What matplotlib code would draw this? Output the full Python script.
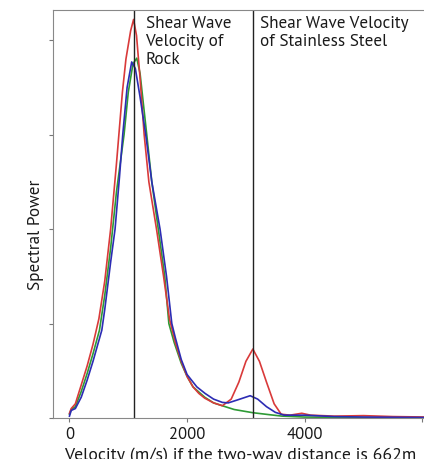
import numpy as np
import matplotlib.pyplot as plt

# velocidades y potencias
v_red = [0, 30, 100, 200, 300, 400, 500, 600, 700, 800, 900, 960, 1040, 1090, 1140,
         1200, 1270, 1350, 1480, 1600, 1700, 1800, 1900, 2000, 2100, 2200, 2300, 2450,
         2600, 2750, 2880, 3000, 3118, 3230, 3350, 3480, 3600, 3750, 3950, 4100, 4500,
         5000, 5500, 6100]
p_red = [0.05, 0.1, 0.15, 0.35, 0.55, 0.78, 1.05, 1.45, 2.0, 2.7, 3.45, 3.8, 4.1, 4.22, 4.05,
         3.6, 3.0, 2.5, 2.0, 1.5, 1.05, 0.8, 0.6, 0.44, 0.33, 0.26, 0.21, 0.16,
         0.13, 0.2, 0.38, 0.6, 0.73, 0.6, 0.38, 0.15, 0.04, 0.03, 0.05, 0.03, 0.02,
         0.025, 0.015, 0.01]

v_green = [0, 30, 100, 200, 300, 400, 510, 600, 700, 800, 928, 1000, 1080, 1144, 1200,
           1314, 1400, 1510, 1620, 1690, 1780, 1900, 2000, 2100, 2300, 2450, 2613, 2800,
           3118, 3400, 3612, 4000, 5000, 6100]
p_green = [0.04, 0.09, 0.12, 0.28, 0.47, 0.68, 0.93, 1.3, 1.8, 2.4, 3.0, 3.45, 3.75, 3.81, 3.65,
           3.0, 2.5, 2.0, 1.5, 1.0, 0.8, 0.58, 0.44, 0.33, 0.22, 0.16, 0.127, 0.09,
           0.056, 0.035, 0.02, 0.01, 0.005, 0.003]

v_blue = [0, 30, 100, 200, 300, 400, 500, 550, 600, 700, 775, 850, 906, 980, 1058, 1120,
          1200, 1297, 1400, 1540, 1650, 1740, 1800, 1900, 2000, 2165, 2306, 2450, 2600,
          2700, 2850, 3072, 3200, 3350, 3500, 3650, 4000, 4500, 5000, 6100]
p_blue = [0.02, 0.08, 0.1, 0.22, 0.4, 0.6, 0.82, 0.93, 1.15, 1.65, 2.0, 2.55, 3.0, 3.5, 3.77, 3.7,
          3.4, 3.0, 2.5, 2.0, 1.5, 1.0, 0.85, 0.62, 0.46, 0.33, 0.26, 0.2, 0.165,
          0.16, 0.19, 0.236, 0.2, 0.12, 0.06, 0.03, 0.03, 0.015, 0.01, 0.005]

v_roca = 1093
v_acero = 3118

plt.rcParams['font.family'] = ['Source Sans Pro', 'PT Sans', 'Lato', 'DejaVu Sans']

fig = plt.figure(figsize=(4.24, 4.59), dpi=100)
ax = fig.add_axes([53/424, 1 - 418/459, 1 - 53/424 + 0.01, 408/459])

ax.plot(v_green, p_green, color='#2e9a35', lw=1.2)
ax.plot(v_red, p_red, color='#d93a3a', lw=1.2)
ax.plot(v_blue, p_blue, color='#2c2cb4', lw=1.2)

ax.axvline(v_roca, color='#222222', lw=1)
ax.axvline(v_acero, color='#222222', lw=1)

ax.text(v_roca + 200, 4.26, "Shear Wave\nVelocity of\nRock", fontsize=12.3,
        va='top', ha='left', linespacing=1.2, color='#1a1a1a')
ax.text(v_acero + 130, 4.26, "Shear Wave Velocity\nof Stainless Steel", fontsize=12.3,
        va='top', ha='left', linespacing=1.2, color='#1a1a1a')

ax.set_xlim(-280, 6100)
ax.set_ylim(0, 4.32)
ax.set_xticks([0, 2000, 4000, 6000])
ax.set_xticklabels(['0', '2000', '4000', ''], fontsize=12)
ax.set_yticks([0, 1, 2, 3, 4])
ax.set_yticklabels([])
ax.tick_params(colors='#777777', labelcolor='#1a1a1a', length=3, width=0.8)

for s in ['left', 'bottom', 'top']:
    ax.spines[s].set_color('#888888')
ax.spines['right'].set_visible(False)

ax.set_xlabel("Velocity (m/s) if the two-way distance is 662m", fontsize=12.8,
              color='#1a1a1a', labelpad=3)
ax.set_ylabel("Spectral Power", fontsize=12.3, color='#1a1a1a')
ax.yaxis.set_label_coords(-0.025, 0.45)

fig.savefig('out.png', dpi=100)
